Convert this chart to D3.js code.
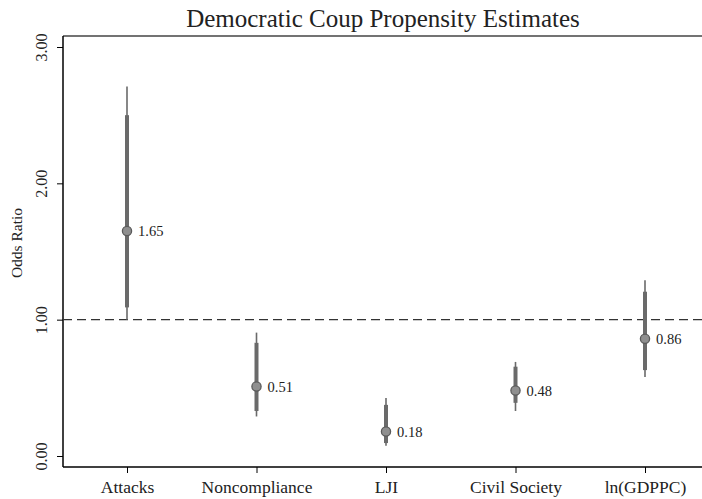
<!DOCTYPE html>
<html>
<head>
<meta charset="utf-8">
<script src="https://cdn.jsdelivr.net/npm/d3@7"></script>
<style>
  html, body { margin: 0; padding: 0; background: #fff; }
  svg { display: block; }
  text { font-family: "Liberation Serif", "DejaVu Serif", serif; fill: #222; }
</style>
</head>
<body>
<svg id="chart" width="702" height="499"></svg>
<script>
// Coefficient estimates (odds ratios) with 90% and 95% intervals
const categories = ["Attacks", "Noncompliance", "LJI", "Civil Society", "ln(GDPPC)"];
const estimates  = [1.65, 0.51, 0.18, 0.48, 0.86];
const ci90Low    = [1.09, 0.33, 0.095, 0.39, 0.63];
const ci90High   = [2.50, 0.83, 0.375, 0.655, 1.205];
const ci95Low    = [1.00, 0.29, 0.076, 0.33, 0.58];
const ci95High   = [2.71, 0.905, 0.425, 0.69, 1.29];
const yTicks     = [0, 1, 2, 3];

const rows = categories.map((c, i) => ({
  cat: c, est: estimates[i],
  lo90: ci90Low[i], hi90: ci90High[i],
  lo95: ci95Low[i], hi95: ci95High[i]
}));

const svg = d3.select("#chart");
const W = 702, H = 499;
const plotLeft = 63, plotTop = 36, plotBottom = 467;
const serif = "'Liberation Serif', 'DejaVu Serif', serif";

const x = d3.scalePoint().domain(categories).range([127, 645]);
const y = d3.scaleLinear().domain([0, 3]).range([456, 47]);

// Title
svg.append("text")
  .attr("x", 383).attr("y", 27)
  .attr("text-anchor", "middle")
  .style("font-family", serif)
  .style("font-size", "25px")
  .text("Democratic Coup Propensity Estimates");

// Top rule
svg.append("line")
  .attr("x1", plotLeft).attr("x2", W)
  .attr("y1", plotTop).attr("y2", plotTop)
  .attr("stroke", "#444").attr("stroke-width", 1.5);

// Y axis
const yAxis = d3.axisLeft(y).tickValues(yTicks).tickFormat(d3.format(".2f")).tickSize(6).tickSizeOuter(0);
const gy = svg.append("g").attr("transform", `translate(${plotLeft},0)`).call(yAxis);
gy.select(".domain").remove();
gy.append("line").attr("x1", 0).attr("x2", 0).attr("y1", plotTop).attr("y2", plotBottom)
  .attr("stroke", "#000").attr("stroke-width", 1.5);
gy.selectAll(".tick line").attr("stroke", "#000").attr("stroke-width", 1);
gy.selectAll(".tick text")
  .attr("x", 0).attr("y", 0).attr("dy", 0)
  .attr("transform", "translate(-16,0) rotate(-90)")
  .attr("text-anchor", "middle")
  .style("font-size", "16px").style("font-family", serif).attr("fill", "#222");

// Y axis title
svg.append("text")
  .attr("transform", "translate(22,243) rotate(-90)")
  .attr("text-anchor", "middle")
  .style("font-family", serif)
  .style("font-size", "15.5px")
  .text("Odds Ratio");

// X axis
const xAxis = d3.axisBottom(x).tickSize(6).tickSizeOuter(0);
const gx = svg.append("g").attr("transform", `translate(0,${plotBottom})`).call(xAxis);
gx.select(".domain").remove();
gx.append("line").attr("x1", plotLeft).attr("x2", W).attr("y1", 0).attr("y2", 0)
  .attr("stroke", "#000").attr("stroke-width", 1.5);
gx.selectAll(".tick line").attr("stroke", "#000");
gx.selectAll(".tick text")
  .attr("y", 26).attr("dy", 0)
  .style("font-size", "17.5px").style("font-family", serif).attr("fill", "#222");

// Reference line at odds ratio of 1
svg.append("line")
  .attr("x1", plotLeft).attr("x2", W)
  .attr("y1", y(1)).attr("y2", y(1))
  .attr("stroke", "#333").attr("stroke-width", 1.3)
  .attr("stroke-dasharray", "9,5");

const g = svg.append("g");

// 95% intervals (thin)
g.selectAll(".ci95").data(rows).join("line")
  .attr("x1", d => x(d.cat)).attr("x2", d => x(d.cat))
  .attr("y1", d => y(d.lo95)).attr("y2", d => y(d.hi95))
  .attr("stroke", "#6a6a6a").attr("stroke-width", 1.6);

// 90% intervals (thick)
g.selectAll(".ci90").data(rows).join("line")
  .attr("x1", d => x(d.cat)).attr("x2", d => x(d.cat))
  .attr("y1", d => y(d.lo90)).attr("y2", d => y(d.hi90))
  .attr("stroke", "#6a6a6a").attr("stroke-width", 4);

// Point estimates
g.selectAll(".pt").data(rows).join("circle")
  .attr("cx", d => x(d.cat)).attr("cy", d => y(d.est))
  .attr("r", 4.6)
  .attr("fill", "#8f8f8f").attr("stroke", "#5a5a5a").attr("stroke-width", 1.3);

// Value labels
g.selectAll(".lbl").data(rows).join("text")
  .attr("x", d => x(d.cat) + 11).attr("y", d => y(d.est))
  .attr("dy", "0.35em")
  .style("font-family", serif)
  .style("font-size", "14.5px")
  .text(d => d3.format(".2f")(d.est));
</script>
</body>
</html>
